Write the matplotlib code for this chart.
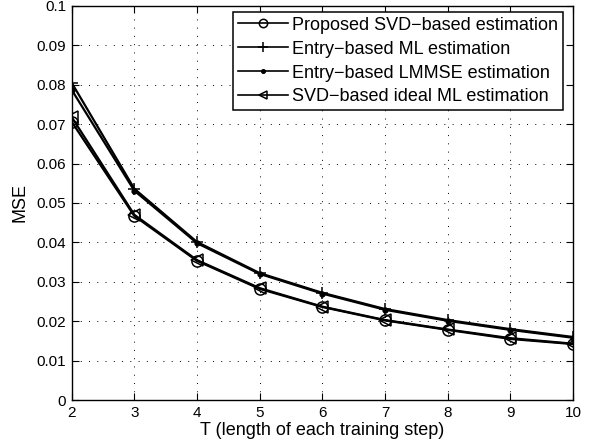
import matplotlib
matplotlib.use("Agg")
import matplotlib.pyplot as plt

plt.rcParams["font.family"] = ["Liberation Sans", "DejaVu Sans"]

T = [2, 3, 4, 5, 6, 7, 8, 9, 10]
mse_proposed = [0.0706, 0.0467, 0.0353, 0.0282, 0.0236, 0.0202, 0.0178, 0.0155, 0.0142]
mse_ml = [0.0805, 0.0536, 0.0401, 0.0322, 0.0272, 0.0231, 0.0203, 0.0180, 0.0160]
mse_lmmse = [0.0787, 0.0531, 0.0398, 0.0320, 0.0270, 0.0229, 0.0201, 0.0178, 0.0158]
mse_ideal = [0.0718, 0.0470, 0.0355, 0.0284, 0.0237, 0.0203, 0.0179, 0.0157, 0.0143]

labels = [
    "Proposed SVD\u2212based estimation",
    "Entry\u2212based ML estimation",
    "Entry\u2212based LMMSE estimation",
    "SVD\u2212based ideal ML estimation",
]

fig = plt.figure(figsize=(5.97, 4.47), dpi=100)
ax = fig.add_axes([0.12, 0.105, 0.84, 0.882])

ax.plot(T, mse_proposed, color="black", lw=1.6, marker="o", ms=8, mfc="none", mew=1.1, label=labels[0])
ax.plot(T, mse_ml, color="black", lw=1.6, marker="+", ms=9, mew=1.1, label=labels[1])
ax.plot(T, mse_lmmse, color="black", lw=1.6, marker=".", ms=7, label=labels[2])
ax.plot(T, mse_ideal, color="black", lw=1.6, marker="<", ms=8, mfc="none", mew=1.1, label=labels[3])

ax.set_xlim(2, 10)
ax.set_ylim(0, 0.1)
ax.set_xticks(T)
ax.set_yticks([i / 100 for i in range(11)])
ax.set_yticklabels(["0"] + [f"{i / 100:g}" for i in range(1, 10)] + ["0.1"])
ax.grid(True, color="black", linestyle=(0, (1, 7.5)), linewidth=0.7)
ax.tick_params(direction="in", top=True, right=True, labelsize=11, length=5, pad=4)
for s in ax.spines.values():
    s.set_linewidth(1.0)

ax.set_xlabel("T (length of each training step)", fontsize=13, labelpad=2)
ax.set_ylabel("MSE", fontsize=13, labelpad=6)

leg = ax.legend(loc="upper right", bbox_to_anchor=(0.980, 0.985), fontsize=13,
                fancybox=False, framealpha=1, edgecolor="black", handlelength=2.8,
                borderpad=0.28, labelspacing=0.38, handletextpad=0.2, borderaxespad=0,
                markerscale=0.75)
leg.get_frame().set_linewidth(1.1)
for h in leg.get_lines():
    h.set_linewidth(1.2)

fig.savefig("out.png", dpi=100)
